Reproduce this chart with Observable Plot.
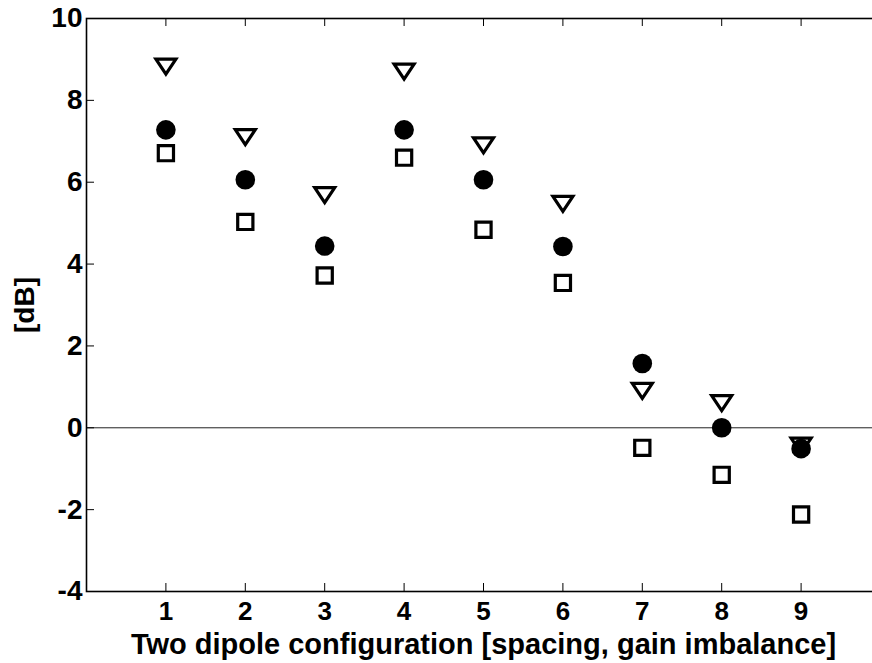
<!DOCTYPE html>
<html>
<head>
<meta charset="utf-8">
<script src="https://cdn.jsdelivr.net/npm/d3@7"></script>
<script src="https://cdn.jsdelivr.net/npm/@observablehq/plot@0.6"></script>
<style>
  html, body { margin: 0; padding: 0; background: white; }
</style>
</head>
<body>
<div id="chart"></div>
<script>
// ---- data ----
const configs = [1, 2, 3, 4, 5, 6, 7, 8, 9];
const circleVals   = [7.28, 6.06, 4.44, 7.28, 6.06, 4.43, 1.57, 0.00, -0.51];
const triangleVals = [8.81, 7.09, 5.67, 8.69, 6.89, 5.46, 0.89, 0.59, -0.45];
const squareVals   = [6.71, 5.03, 3.72, 6.60, 4.84, 3.54, -0.49, -1.15, -2.12];
const yTicks = [-4, -2, 0, 2, 4, 6, 8, 10];
const xTicks = [1, 2, 3, 4, 5, 6, 7, 8, 9];
const xLabel = "Two dipole configuration [spacing, gain imbalance]";
const yLabel = "[dB]";

const rows = configs.map((c, i) => ({
  config: c,
  circle: circleVals[i],
  triangle: triangleVals[i],
  square: squareVals[i]
}));

// ---- layout ----
const W = 872, H = 663;
const mL = 86, mT = 18, mB = 72, mR = -8;
const plotW = W - mL - mR;
const plotH = H - mT - mB;
const tickLen = 8;

// custom marker shapes
const squareSym = {
  draw(ctx, size) {
    const h = Math.sqrt(size / Math.PI);
    ctx.moveTo(-h, -h); ctx.lineTo(h, -h); ctx.lineTo(h, h); ctx.lineTo(-h, h); ctx.closePath();
  }
};
const triDownSym = {
  draw(ctx, size) {
    const h = Math.sqrt(size / Math.PI);
    ctx.moveTo(-h, -0.8 * h); ctx.lineTo(h, -0.8 * h); ctx.lineTo(0, 0.7 * h); ctx.closePath();
  }
};

const chart = Plot.plot({
  width: W,
  height: H,
  marginLeft: mL,
  marginTop: mT,
  marginBottom: mB,
  marginRight: mR,
  style: {
    fontFamily: "'Liberation Sans', Arial, sans-serif",
    fontWeight: "bold",
    color: "black",
    background: "white"
  },
  x: { domain: [0, 10] },
  y: { domain: [-4, 10] },
  marks: [
    Plot.ruleY([0], { stroke: "#222", strokeWidth: 1 }),
    Plot.frame({ stroke: "black", strokeWidth: 1.6 }),
    Plot.tickY(yTicks, { y: d => d, insetRight: plotW - tickLen, stroke: "black", strokeWidth: 1 }),
    Plot.tickX(xTicks, { x: d => d, insetTop: plotH - tickLen, stroke: "black", strokeWidth: 1 }),
    Plot.tickX(xTicks, { x: d => d, insetBottom: plotH - tickLen, stroke: "black", strokeWidth: 1 }),
    Plot.axisY({ ticks: yTicks, tickSize: 0, tickPadding: 4, fontSize: 28, label: null, tickFormat: d => String(d) }),
    Plot.axisX({ ticks: xTicks, tickSize: 0, tickPadding: 10, fontSize: 26, label: null, tickFormat: d => String(d) }),
    Plot.text([xLabel], { text: d => d, frameAnchor: "bottom", lineAnchor: "middle", textAnchor: "middle", dy: 53, fontSize: 29 }),
    Plot.text([yLabel], { text: d => d, frameAnchor: "left", lineAnchor: "middle", textAnchor: "middle", rotate: -90, dx: -61, fontSize: 28 }),
    Plot.dot(rows, { x: "config", y: "triangle", symbol: triDownSym, r: 10, fill: "none", stroke: "black", strokeWidth: 3.2, strokeLinejoin: "miter" }),
    Plot.dot(rows, { x: "config", y: "square", symbol: squareSym, r: 7.6, fill: "none", stroke: "black", strokeWidth: 3.2, strokeLinejoin: "miter" }),
    Plot.dot(rows, { x: "config", y: "circle", symbol: "circle", r: 9.8, fill: "black", stroke: "none" })
  ]
});

document.getElementById("chart").appendChild(chart);
</script>
</body>
</html>
